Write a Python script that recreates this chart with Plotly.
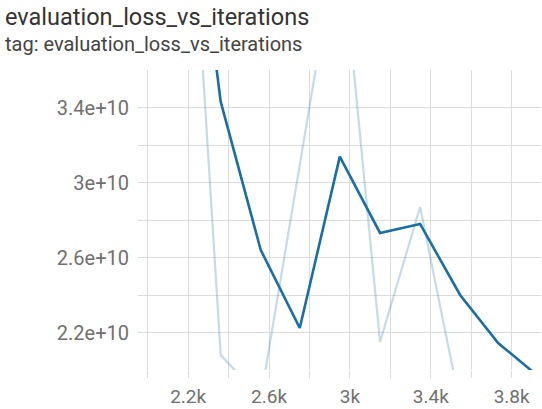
import plotly.graph_objects as go

# iterations (shared by raw and smoothed series)
iterations = [2165, 2361, 2559, 2752, 2950, 3149, 3347, 3545, 3733, 3930]
# raw evaluation loss (light line)
raw_loss = [5.46e10, 2.08e10, 1.85e10, 3.09e10, 4.37e10, 2.149e10, 2.869e10, 1.815e10, 1.80e10, 1.75e10]
# smoothed evaluation loss (dark line)
smoothed_loss = [5.1e10, 3.431e10, 2.64e10, 2.224e10, 3.138e10, 2.731e10, 2.779e10, 2.40e10, 2.144e10, 1.968e10]

y_tick_vals = [2.0e10, 2.2e10, 2.4e10, 2.6e10, 2.8e10, 3.0e10, 3.2e10, 3.4e10, 3.6e10]
y_tick_text = ["", "2.2e+10", "", "2.6e+10", "", "3e+10", "", "3.4e+10", ""]
x_tick_vals = [2000, 2200, 2400, 2600, 2800, 3000, 3200, 3400, 3600, 3800]
x_tick_text = ["", "2.2k", "", "2.6k", "", "3k", "", "3.4k", "", "3.8k"]

line_color = "#1a6ea6"
font_family = "Roboto, sans-serif"

W, H = 542, 409
l, r, t, b = 138, 1, 70, 39
pw, ph = W - l - r, H - t - b

fig = go.Figure()
fig.add_trace(go.Scatter(x=iterations, y=raw_loss, mode="lines",
                         line=dict(color="rgba(26,110,166,0.25)", width=2.2),
                         hoverinfo="skip", showlegend=False))
fig.add_trace(go.Scatter(x=iterations, y=smoothed_loss, mode="lines",
                         line=dict(color=line_color, width=2.6),
                         showlegend=False))

fig.update_layout(
    width=W, height=H,
    margin=dict(l=l, r=r, t=t, b=b),
    paper_bgcolor="white", plot_bgcolor="white",
    font=dict(family=font_family, color="#707070"),
    xaxis=dict(range=[1952, 3945], tickvals=x_tick_vals, ticktext=x_tick_text,
               showgrid=True, gridcolor="#dcdcdc", gridwidth=1,
               ticks="outside", ticklen=7, tickcolor="#dcdcdc",
               showline=False, zeroline=False,
               tickfont=dict(size=19, color="#707070"), ticklabelstandoff=2),
    yaxis=dict(range=[2.0e10, 3.6e10], tickvals=y_tick_vals, ticktext=y_tick_text,
               showgrid=True, gridcolor="#dcdcdc", gridwidth=1,
               ticks="", showline=False, zeroline=False,
               tickfont=dict(size=20, color="#707070"), ticklabelstandoff=8),
)
fig.add_annotation(text="evaluation_loss_vs_iterations", xref="paper", yref="paper",
                   x=(3 - l) / pw, y=(H - b - 17) / ph, xanchor="left", yanchor="middle",
                   showarrow=False, font=dict(size=23.5, color="#333333", family=font_family))
fig.add_annotation(text="tag: evaluation_loss_vs_iterations", xref="paper", yref="paper",
                   x=(3 - l) / pw, y=(H - b - 44) / ph, xanchor="left", yanchor="middle",
                   showarrow=False, font=dict(size=20, color="#444444", family=font_family))

fig.write_html("out.html", post_script="document.body.style.margin='0';",
               config={"displayModeBar": False})
